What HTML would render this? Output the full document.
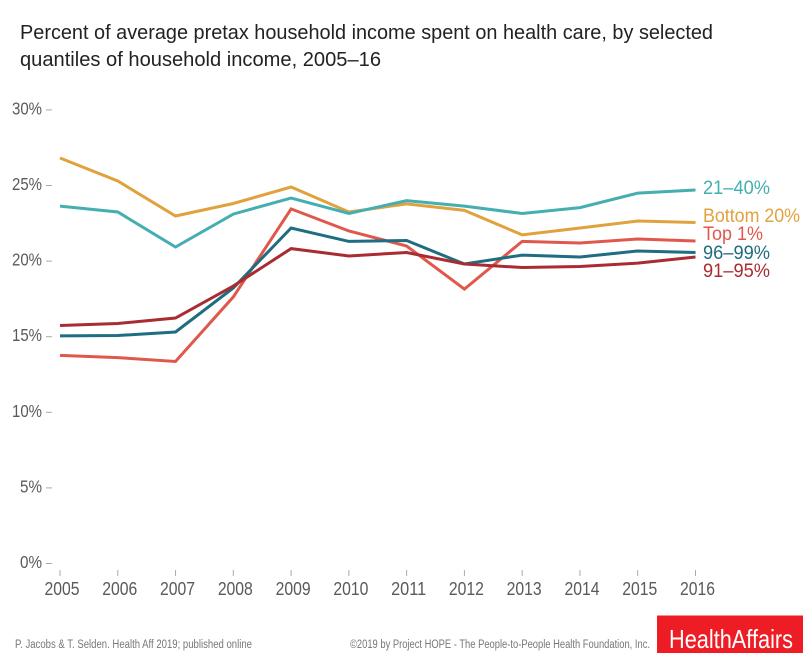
<!DOCTYPE html>
<html lang="en">
<head>
<meta charset="utf-8">
<title>Health care spending by income quantile</title>
<style>
html,body{margin:0;padding:0;background:#fff;width:803px;height:653px;overflow:hidden}
svg{display:block;font-family:"Liberation Sans",sans-serif}
</style>
</head>
<body>
<svg id="chart" width="803" height="653" viewBox="0 0 803 653">
  <text x="20" y="39" font-size="20.5" fill="#222" textLength="693" lengthAdjust="spacingAndGlyphs">Percent of average pretax household income spent on health care, by selected</text>
  <text x="20" y="66" font-size="20.5" fill="#222" textLength="361" lengthAdjust="spacingAndGlyphs">quantiles of household income, 2005–16</text>
  <g id="axes"></g>
  <g id="series"></g>
  <g id="labels"></g>
  <text x="15" y="648" font-size="11.5" fill="#777" textLength="237" lengthAdjust="spacingAndGlyphs">P. Jacobs &amp; T. Selden. Health Aff 2019; published online</text>
  <text x="350" y="648" font-size="11.5" fill="#777" textLength="300" lengthAdjust="spacingAndGlyphs">©2019 by Project HOPE - The People-to-People Health Foundation, Inc.</text>
  <rect x="657" y="615.5" width="146" height="37.5" fill="#ee1c25"></rect>
  <text x="669" y="648" font-size="26" fill="#fff" textLength="124" lengthAdjust="spacingAndGlyphs">HealthAffairs</text>
</svg>
<script>
const years = [2005,2006,2007,2008,2009,2010,2011,2012,2013,2014,2015,2016];
const yTicks = [0,5,10,15,20,25,30];
const bottom20 = [26.82,25.3,22.98,23.81,24.9,23.25,23.78,23.35,21.73,22.19,22.65,22.55];
const q21to40 = [23.64,23.25,20.93,23.11,24.17,23.15,24.0,23.64,23.15,23.54,24.5,24.7];
const top1 = [13.76,13.62,13.36,17.63,23.45,21.99,21.0,18.15,21.3,21.2,21.46,21.33];
const q96to99 = [15.05,15.08,15.31,18.22,22.19,21.3,21.36,19.81,20.4,20.27,20.67,20.57];
const q91to95 = [15.74,15.87,16.24,18.35,20.83,20.34,20.57,19.81,19.58,19.64,19.87,20.27];

const NS = 'http://www.w3.org/2000/svg';
const xScale = y => 60 + (y - years[0]) * (695.5 - 60) / (years[years.length - 1] - years[0]);
const yScale = v => 563.5 - v * 15.12;

function svgEl(tag, attrs, text) {
  const el = document.createElementNS(NS, tag);
  for (const k in attrs) el.setAttribute(k, attrs[k]);
  if (text !== undefined) el.textContent = text;
  return el;
}

const axes = document.getElementById('axes');
yTicks.forEach(t => {
  const y = yScale(t);
  const mark = svgEl('line', {x1: 46, x2: 52, y1: y, y2: y, stroke: '#aaa', 'stroke-width': 1});
  
  
  axes.appendChild(mark);
  const label = svgEl('text', {x: 42, y: y + 4.5, 'text-anchor': 'end', 'font-size': 17.5, fill: '#5a5a5a', textLength: t === 0 ? 22 : (t < 10 ? 22 : 30), lengthAdjust: 'spacingAndGlyphs'}, t + '%');
  
  
  axes.appendChild(label);
});
years.forEach(yr => {
  const x = xScale(yr);
  const mark = svgEl('line', {x1: x, x2: x, y1: 570, y2: 576, stroke: '#aaa', 'stroke-width': 1});
  
  
  axes.appendChild(mark);
  const label = svgEl('text', {x: x + 2, y: 595, 'text-anchor': 'middle', 'font-size': 18, fill: '#5a5a5a', textLength: 35, lengthAdjust: 'spacingAndGlyphs'}, String(yr));
  
  
  axes.appendChild(label);
});

const seriesGroup = document.getElementById('series');
function drawLine(values, color, name) {
  const d = values.map((v, i) => (i ? 'L' : 'M') + xScale(years[i]).toFixed(1) + ' ' + yScale(v).toFixed(1)).join(' ');
  const path = svgEl('path', {d: d, fill: 'none', stroke: color, 'stroke-width': 3, 'stroke-linejoin': 'miter'});
  
  
  seriesGroup.appendChild(path);
}
drawLine(bottom20, '#e0a23c', 'line-bottom-20');
drawLine(q21to40, '#45aeb0', 'line-21-40');
drawLine(top1, '#e0584c', 'line-top-1');
drawLine(q96to99, '#1f6d80', 'line-96-99');
drawLine(q91to95, '#a82c32', 'line-91-95');

const labelGroup = document.getElementById('labels');
function drawLabel(text, y, color, width, name) {
  const t = svgEl('text', {x: 703, y: y, 'font-size': 19.5, fill: color, textLength: width, lengthAdjust: 'spacingAndGlyphs'}, text);
  
  
  labelGroup.appendChild(t);
}
drawLabel('21–40%', 194, '#45aeb0', 67, 'label-21-40');
drawLabel('Bottom 20%', 222, '#e0a23c', 97, 'label-bottom-20');
drawLabel('Top 1%', 240, '#e0584c', 60, 'label-top-1');
drawLabel('96–99%', 259, '#1f6d80', 67, 'label-96-99');
drawLabel('91–95%', 277, '#a82c32', 67, 'label-91-95');
</script>
</body>
</html>
